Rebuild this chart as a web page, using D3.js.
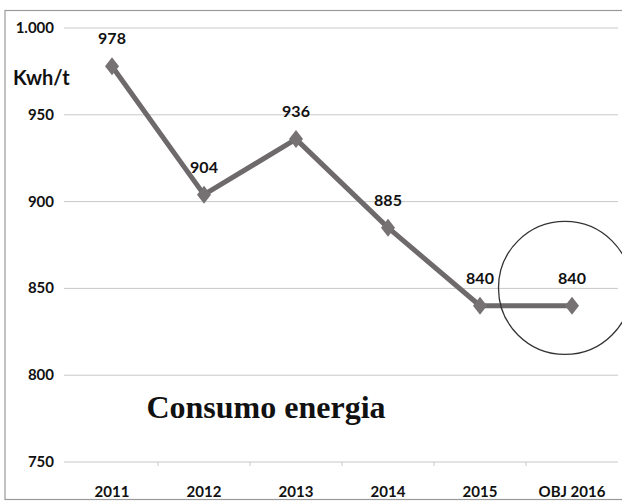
<!DOCTYPE html>
<html><head><meta charset="utf-8">
<script src="https://cdn.jsdelivr.net/npm/d3@7"></script>
<style>body{margin:0;background:#fff}svg{display:block}</style>
</head><body>
<script>
const categories = ["2011","2012","2013","2014","2015","OBJ 2016"];
const values = [978, 904, 936, 885, 840, 840];
const yTicks = [750, 800, 850, 900, 950, 1000];
const yTickLabels = ["750","800","850","900","950","1.000"];
const highlightCategory = "OBJ 2016";
const highlightValue = 850;

const W = 622, H = 501;
const svg = d3.select("body").append("svg").attr("width", W).attr("height", H);

svg.append("rect").attr("x",5).attr("y",10.5).attr("width",W).attr("height",489)
  .attr("fill","#fff").attr("stroke","#9a9a9a").attr("stroke-width",1.2);

const x = d3.scaleBand().domain(categories).range([66, 618]);
const y = d3.scaleLinear().domain([750, 1000]).range([462, 28]);
const FONT = "Lato, 'Open Sans', sans-serif";

// gridlines
svg.append("g").selectAll("line").data(yTicks).join("line")
  .attr("x1", 64).attr("x2", 618)
  .attr("y1", d => y(d)).attr("y2", d => y(d))
  .attr("stroke", "#c8c8c8").attr("stroke-width", 1);

// y labels
svg.append("g").selectAll("text").data(yTicks).join("text")
  .attr("x", 54).attr("y", d => y(d) + 5)
  .attr("text-anchor","end")
  .attr("font-family",FONT).attr("font-weight","bold")
  .attr("font-size",15).attr("fill","#111")
  .text((d,i) => yTickLabels[i]);

// x ticks
svg.append("g").selectAll("line").data(categories.slice(1)).join("line")
  .attr("x1", d => x(d)).attr("x2", d => x(d))
  .attr("y1", y(750)).attr("y2", y(750) + 4)
  .attr("stroke", "#c8c8c8");

// x labels
svg.append("g").selectAll("text").data(categories).join("text")
  .attr("x", d => x(d) + x.bandwidth()/2).attr("y", 497)
  .attr("text-anchor","middle")
  .attr("font-family",FONT).attr("font-weight","bold")
  .attr("font-size",15).attr("fill","#111")
  .text(d => d);

// unit label
svg.append("text").attr("x", 13).attr("y", 85)
  .attr("font-family",FONT).attr("font-weight","bold")
  .attr("font-size",20).attr("fill","#111").text("Kwh/t");

const cx = d => x(d) + x.bandwidth()/2;
const pts = categories.map((c,i) => [cx(c), y(values[i])]);

// line
svg.append("path").datum(pts)
  .attr("d", d3.line())
  .attr("fill","none").attr("stroke","#6e6a6c").attr("stroke-width",5)
  .attr("stroke-linejoin","round");

// markers (diamonds)
svg.append("g").selectAll("path").data(pts).join("path")
  .attr("transform", d => `translate(${d[0]},${d[1]})`)
  .attr("d", "M0,-9L7,0L0,9L-7,0Z")
  .attr("fill","#767274");

// data labels
svg.append("g").selectAll("text").data(categories).join("text")
  .attr("x", (d,i) => pts[i][0]).attr("y", (d,i) => pts[i][1] - 22)
  .attr("text-anchor","middle")
  .attr("font-family",FONT).attr("font-weight","bold")
  .attr("font-size",16).attr("fill","#111")
  .text((d,i) => values[i]);

// highlight circle
svg.append("circle")
  .attr("cx", cx(highlightCategory) - 7).attr("cy", y(highlightValue) - 0.5)
  .attr("r", 66.5)
  .attr("fill","none").attr("stroke","#333").attr("stroke-width",1.3);

// title
svg.append("text").attr("x", 266).attr("y", 418)
  .attr("text-anchor","middle")
  .attr("font-family","'Liberation Serif', 'Times New Roman', serif").attr("font-weight","bold")
  .attr("font-size",32).attr("fill","#111")
  .text("Consumo energia");
</script>
</body></html>
